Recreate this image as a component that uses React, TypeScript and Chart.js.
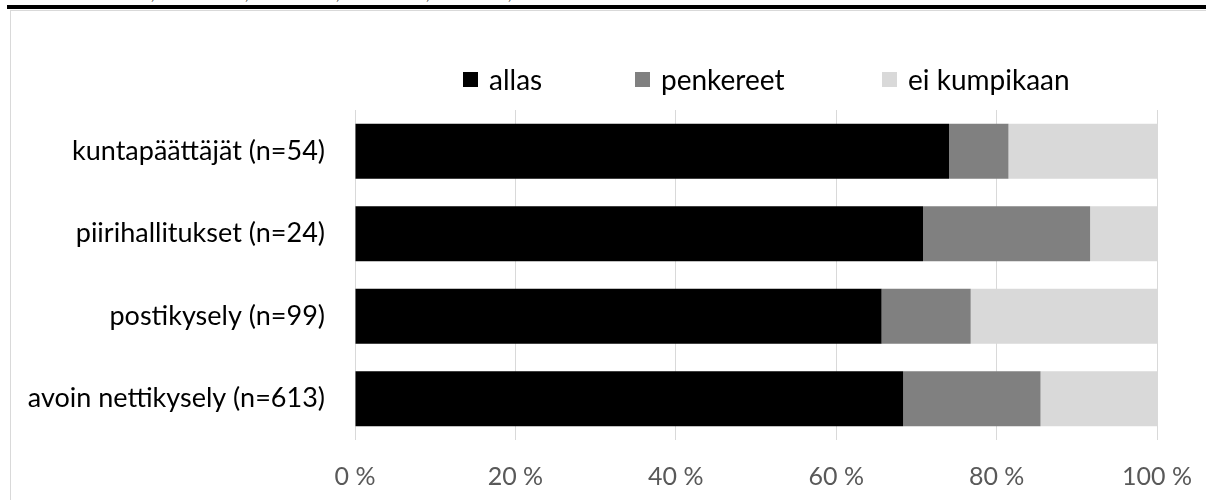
import React, { useEffect, useRef } from "react";
import { Chart, registerables } from "chart.js";

Chart.register(...registerables);

const categories = [
  "kuntapäättäjät (n=54)",
  "piirihallitukset (n=24)",
  "postikysely (n=99)",
  "avoin nettikysely (n=613)",
];
const seriesNames = ["allas", "penkereet", "ei kumpikaan"];
const allas = [74.07, 70.83, 65.66, 68.35];
const penkereet = [7.41, 20.83, 11.11, 17.13];
const eiKumpikaan = [18.52, 8.34, 23.23, 14.52];
const seriesColors = ["#000000", "#808080", "#d9d9d9"];
const xTicks = [0, 20, 40, 60, 80, 100];

const FONT = "Lato, 'Open Sans', sans-serif";
const legendX = [463, 635, 882];
const commaX = [153, 247, 338, 428, 510];

export default function App() {
  const ref = useRef<HTMLCanvasElement | null>(null);

  useEffect(() => {
    if (!ref.current) return;
    const values = [allas, penkereet, eiKumpikaan];
    const chart = new Chart(ref.current, {
      type: "bar",
      data: {
        labels: categories,
        datasets: seriesNames.map((name, i) => ({
          label: name,
          data: values[i],
          backgroundColor: seriesColors[i],
          borderWidth: 0,
          barPercentage: 0.667,
          categoryPercentage: 1,
        })),
      },
      options: {
        indexAxis: "y",
        animation: false,
        responsive: false,
        devicePixelRatio: 1,
        layout: { padding: { top: 110, right: 49, bottom: 0, left: 0 } },
        plugins: { legend: { display: false }, tooltip: { enabled: false } },
        scales: {
          x: {
            stacked: true,
            min: 0,
            max: 100,
            afterBuildTicks: (s: any) => {
              s.ticks = xTicks.map((v) => ({ value: v }));
            },
            afterFit: (s: any) => {
              s.height = 60;
              s.paddingLeft = 0;
              s.paddingRight = 0;
            },
            grid: { color: "#d9d9d9", lineWidth: 1, tickLength: 0, drawTicks: false },
            border: { display: false },
            ticks: {
              padding: 22,
              color: "#595959",
              font: { family: FONT, size: 25 },
              callback: (v: any) => `${v} %`,
              maxRotation: 0,
            },
          },
          y: {
            stacked: true,
            afterFit: (s: any) => {
              s.width = 355;
            },
            grid: { display: false },
            border: { display: false },
            ticks: {
              padding: 22,
              color: "#000000",
              font: { family: FONT, size: 27 },
            },
          },
        },
      },
    });
    return () => chart.destroy();
  }, []);

  return (
    <div
      style={{
        position: "absolute",
        left: 0,
        top: 0,
        width: 1206,
        height: 500,
        overflow: "hidden",
        background: "#ffffff",
        fontFamily: FONT,
      }}
    >
      {commaX.map((x, i) => (
        <span
          key={i}
          style={{
            position: "absolute",
            left: x - 2,
            top: -12,
            fontSize: 14,
            lineHeight: "14px",
            color: "#000",
          }}
        >
          ,
        </span>
      ))}
      <div style={{ position: "absolute", left: 7, top: 5, width: 1300, height: 4, background: "#000" }} />
      <div
        style={{
          position: "absolute",
          left: 10,
          top: 10,
          width: 1300,
          height: 600,
          border: "1px solid #d9d9d9",
        }}
      />
      <canvas ref={ref} width={1206} height={500} style={{ position: "absolute", left: 0, top: 0 }} />
      {seriesNames.map((name, i) => (
        <div
          key={name}
          style={{
            position: "absolute",
            left: legendX[i],
            top: 62,
            height: 34,
            display: "flex",
            alignItems: "center",
            whiteSpace: "nowrap",
          }}
        >
          <span style={{ display: "inline-block", width: 15, height: 15, background: seriesColors[i], marginRight: 11 }} />
          <span style={{ fontSize: 28, color: "#000" }}>{name}</span>
        </div>
      ))}
    </div>
  );
}
